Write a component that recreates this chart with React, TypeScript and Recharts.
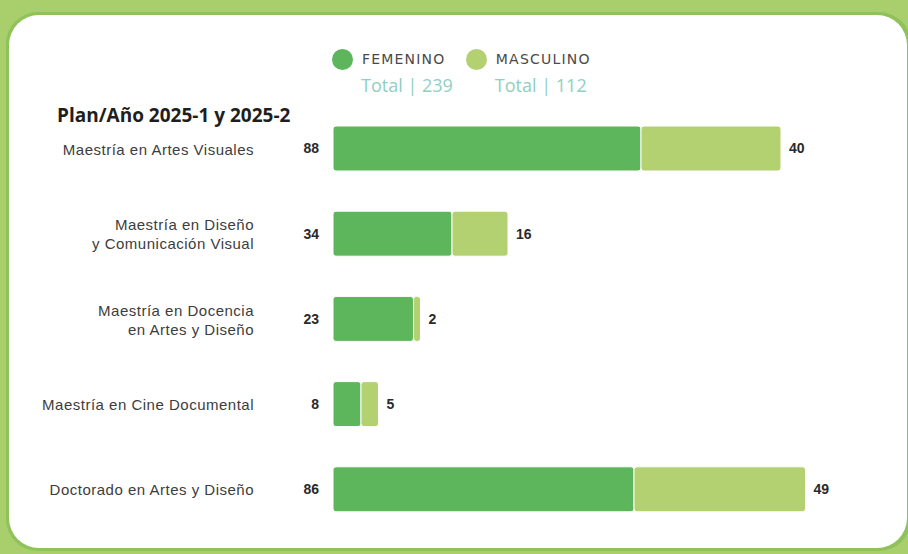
import React from "react";
import { BarChart, Bar, XAxis, YAxis, LabelList, Legend } from "recharts";

const programs = [
  "Maestría en Artes Visuales",
  "Maestría en Diseño\ny Comunicación Visual",
  "Maestría en Docencia\nen Artes y Diseño",
  "Maestría en Cine Documental",
  "Doctorado en Artes y Diseño",
];
const femenino = [88, 34, 23, 8, 86];
const masculino = [40, 16, 2, 5, 49];
const seriesNames = ["FEMENINO", "MASCULINO"];
const title = "Plan/Año 2025-1 y 2025-2";

const FEM_COLOR = "#5db65b";
const MASC_COLOR = "#b4d171";

const data = programs.map((p, i) => ({ name: p, fem: femenino[i], masc: masculino[i] }));
const totals = [femenino.reduce((a, b) => a + b, 0), masculino.reduce((a, b) => a + b, 0)];

const CategoryTick = (props: any) => {
  const { x, y, payload } = props;
  const lines = String(payload.value).split("\n");
  const lh = 19;
  const start = y - ((lines.length - 1) * lh) / 2;
  return (
    <text
      x={x}
      y={start}
      textAnchor="end"
      fill="#3d3d3d"
      fontFamily="'Liberation Sans', Arial, sans-serif"
      fontSize={15}
      letterSpacing={0.5}
      dominantBaseline="central"
    >
      {lines.map((l, i) => (
        <tspan key={i} x={x} y={start + i * lh} dominantBaseline="central">
          {l}
        </tspan>
      ))}
    </text>
  );
};

const LegendContent = () => {
  const colors = [FEM_COLOR, MASC_COLOR];
  return (
    <div style={{ display: "flex", justifyContent: "flex-start", paddingLeft: 332 }}>
      {seriesNames.map((n, i) => (
        <div key={n} style={{ marginRight: 13 }}>
          <div style={{ display: "flex", alignItems: "center", height: 22 }}>
            <span
              style={{
                display: "inline-block",
                width: 21,
                height: 21,
                borderRadius: "50%",
                background: colors[i],
                marginRight: 9,
              }}
            />
            <span
              style={{
                fontFamily: "'DejaVu Sans', sans-serif",
                fontSize: 14,
                color: "#4a4a4a",
                letterSpacing: 1.2,
              }}
            >
              {n}
            </span>
          </div>
          <div
            style={{
              fontFamily: "'Open Sans', sans-serif",
              fontSize: 18,
              lineHeight: "22px",
              color: "#8fd0bf",
              marginLeft: 29,
              marginTop: 4,
            }}
          >
            Total | {totals[i]}
          </div>
        </div>
      ))}
    </div>
  );
};

const valueLabelStyle = {
  fontFamily: "'Liberation Sans', Arial, sans-serif",
  fontSize: 14,
  fontWeight: 700,
  fill: "#2a2a2a",
};

export default function App() {
  return (
    <div
      style={{
        position: "absolute",
        left: 0,
        top: 0,
        width: 908,
        height: 554,
        background: "#a9cf6c",
        overflow: "hidden",
      }}
    >
      <div
        style={{
          position: "absolute",
          left: 6,
          top: 12,
          width: 905,
          height: 539,
          background: "#8fc25a",
          borderRadius: 32,
        }}
      />
      <div
        style={{
          position: "absolute",
          left: 9,
          top: 15,
          width: 898,
          height: 533,
          background: "#ffffff",
          borderRadius: 30,
        }}
      />
      <div
        style={{
          position: "absolute",
          left: 57,
          top: 102,
          fontFamily: "'Open Sans', sans-serif",
          fontWeight: 700,
          fontSize: 19,
          color: "#1e1e1e",
        }}
      >
        {title}
      </div>
      <div style={{ position: "absolute", left: 0, top: 0 }}>
        <BarChart
          width={908}
          height={554}
          data={data}
          layout="vertical"
          margin={{ top: 58, right: 50, bottom: 22, left: 0 }}
          barSize={45}
        >
          <XAxis type="number" domain={[0, 150]} hide />
          <YAxis
            type="category"
            dataKey="name"
            width={333}
            axisLine={false}
            tickLine={false}
            tickSize={0}
            tickMargin={79}
            tick={<CategoryTick />}
            interval={0}
          />
          <Legend
            verticalAlign="top"
            align="left"
            content={<LegendContent />}
            wrapperStyle={{ top: 48, left: 0, width: 908 }}
          />
          <Bar
            dataKey="fem"
            stackId="a"
            fill={FEM_COLOR}
            stroke="#ffffff"
            strokeWidth={1}
            radius={[3, 3, 3, 3]}
            isAnimationActive={false}
          >
            <LabelList dataKey="fem" position="left" offset={14} style={valueLabelStyle} />
          </Bar>
          <Bar
            dataKey="masc"
            stackId="a"
            fill={MASC_COLOR}
            stroke="#ffffff"
            strokeWidth={1}
            radius={[3, 3, 3, 3]}
            isAnimationActive={false}
          >
            <LabelList dataKey="masc" position="right" offset={8} style={valueLabelStyle} />
          </Bar>
        </BarChart>
      </div>
    </div>
  );
}
